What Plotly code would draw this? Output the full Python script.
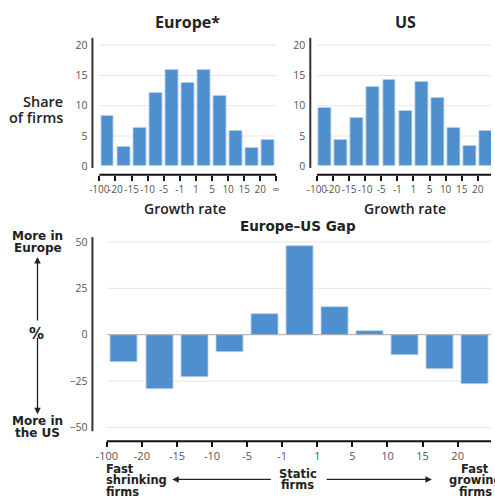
import plotly.graph_objects as go

# ---------------- data ----------------
bin_edges = ["-100", "-20", "-15", "-10", "-5", "-1", "1", "5", "10", "15", "20", "∞"]
europe_share = [8.4, 3.2, 6.4, 12.1, 16.0, 13.7, 16.0, 11.7, 5.9, 3.0, 4.4]
us_share = [9.7, 4.4, 8.0, 13.1, 14.2, 9.1, 13.9, 11.3, 6.3, 3.4, 5.8]
gap_pct = [-14.5, -29.4, -22.6, -9.3, 11.4, 47.8, 15.0, 2.2, -11.0, -18.5, -26.9]
share_ticks = [0, 5, 10, 15, 20]
gap_ticks = [-50, -25, 0, 25, 50]

W, H = 495, 498
FONT = "Open Sans"
FONT2 = "DejaVu Sans"
BAR = "#4f8fcd"
EDGE = "#b9d3ef"
GRID = "#e6e6e6"
DARK = "#222222"
TICKC = "#555555"


def px(x):
    return x / W


def py(y):
    return 1 - y / H


centers = [i + 0.5 for i in range(len(europe_share))]
edge_pos = list(range(len(bin_edges)))

fig = go.Figure()
fig.add_trace(go.Bar(x=centers, y=europe_share, width=0.8, marker=dict(color=BAR, line=dict(color=EDGE, width=0.8)),
                     xaxis="x", yaxis="y", showlegend=False))
fig.add_trace(go.Bar(x=centers, y=us_share, width=0.8, marker=dict(color=BAR, line=dict(color=EDGE, width=0.8)),
                     xaxis="x2", yaxis="y2", showlegend=False))
fig.add_trace(go.Bar(x=centers, y=gap_pct, width=0.77, marker=dict(color=BAR, line=dict(color=EDGE, width=0.8)),
                     xaxis="x3", yaxis="y3", showlegend=False))

top_y_dom = [py(173.5), py(36)]
gap_y_dom = [py(441), py(236)]

xcommon = dict(tickvals=edge_pos, ticktext=bin_edges, tickangle=0, ticks="outside", ticklen=5,
               tickwidth=1.5, tickcolor="#111", showgrid=False, zeroline=False, showline=False,
               fixedrange=True)
ycommon = dict(ticks="", showgrid=False, zeroline=False, showline=False, ticklabelstandoff=4,
               tickfont=dict(family=FONT, size=10.5, color=TICKC))

fig.update_layout(
    width=W, height=H, margin=dict(l=0, r=0, t=0, b=0),
    paper_bgcolor="white", plot_bgcolor="white",
    font=dict(family=FONT, color=DARK),
    bargap=0,
    xaxis=dict(domain=[px(90.7), px(277.3)], range=[-0.43, 11.0], anchor="y",
               tickfont=dict(family=FONT, size=10, color=TICKC), **xcommon),
    yaxis=dict(domain=top_y_dom, range=[-1.4, 21.2], anchor="x", tickvals=share_ticks, **ycommon),
    xaxis2=dict(domain=[px(311.7), 1.0], range=[-0.41, 10.82], anchor="y2",
                tickfont=dict(family=FONT, size=10, color=TICKC), **xcommon),
    yaxis2=dict(domain=top_y_dom, range=[-1.4, 21.2], anchor="x2", tickvals=share_ticks, **ycommon),
    xaxis3=dict(domain=[px(90.7), 1.0], range=[-0.41, 10.95], anchor="y3",
                tickfont=dict(family=FONT, size=11, color=TICKC), **xcommon),
    yaxis3=dict(domain=gap_y_dom, range=[-57.5, 52.7], anchor="x3", tickvals=gap_ticks, **ycommon),
)

shapes = []
# gridlines
for xr, yr in (("x", "y"), ("x2", "y2")):
    for v in share_ticks[1:]:
        shapes.append(dict(type="line", xref=xr, yref=yr, x0=0, x1=len(europe_share), y0=v, y1=v,
                           line=dict(color=GRID, width=1), layer="below"))
for v in gap_ticks:
    shapes.append(dict(type="line", xref="x3", yref="y3", x0=0, x1=len(gap_pct), y0=v, y1=v,
                       line=dict(color="#aaaaaa" if v == 0 else GRID, width=1),
                       layer="above" if v == 0 else "below"))
# axis lines
for xr, yr, bot in (("x", "y", 0.05), ("x2", "y2", 0.05), ("x3", "y3", 0.049)):
    shapes.append(dict(type="line", xref=xr, yref=yr + " domain", x0=0, x1=len(europe_share), y0=0, y1=0,
                       line=dict(color="#111", width=2)))
    shapes.append(dict(type="line", xref=xr + " domain", yref=yr + " domain", x0=0, x1=0, y0=bot, y1=1,
                       line=dict(color="#333", width=2)))
fig.update_layout(shapes=shapes)

ann = []


def text(x, y, s, size=12, xanchor="center", weight=700, color=DARK, family=FONT):
    ann.append(dict(x=px(x), y=py(y), xref="paper", yref="paper", text=s, showarrow=False,
                    xanchor=xanchor, yanchor="middle",
                    font=dict(family=family, size=size, color=color, weight=weight)))


def arrow(hx, hy, tx, ty):
    ann.append(dict(x=px(hx), y=py(hy), xref="paper", yref="paper", text="", showarrow=True,
                    ax=tx - hx, ay=ty - hy, arrowhead=2, arrowsize=1, arrowwidth=1.3,
                    arrowcolor=DARK))


text(186.7, 20.5, "Europe*", size=16)
text(408.3, 20.5, "US", size=16)
text(63, 100, "Share", size=14.5, xanchor="right", weight=600)
text(63, 115.5, "of firms", size=14.5, xanchor="right", weight=600)
text(185, 207, "Growth rate", size=14, weight=600)
text(407.7, 207, "Growth rate", size=14, weight=600)
text(299, 225, "Europe–US Gap", size=13.5, family=FONT2)

text(35, 235, "More in", size=12, family=FONT2)
text(35, 246.5, "Europe", size=12, family=FONT2)
arrow(35, 256, 35, 321)
text(34, 333, "%", size=15, family=FONT2)
arrow(35, 414, 35, 336)
text(35, 421, "More in", size=12, family=FONT2)
text(35, 432.5, "the US", size=12, family=FONT2)

text(102, 468.5, "Fast", size=11.5, xanchor="left", family=FONT2)
text(102, 480, "shrinking", size=11.5, xanchor="left", family=FONT2)
text(102, 491.5, "firms", size=11.5, xanchor="left", family=FONT2)
arrow(171.7, 479.3, 271.7, 479.3)
text(299, 473.5, "Static", size=11.5, family=FONT2)
text(299, 485, "firms", size=11.5, family=FONT2)
arrow(435, 479.3, 328.3, 479.3)
text(479, 468.5, "Fast", size=11.5, family=FONT2)
text(479, 480, "growing", size=11.5, family=FONT2)
text(479, 491.5, "firms", size=11.5, family=FONT2)

fig.update_layout(annotations=ann)
fig.write_html("out.html")
